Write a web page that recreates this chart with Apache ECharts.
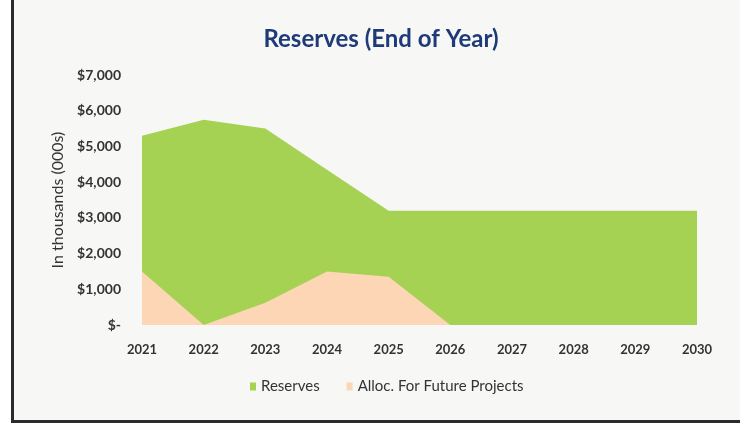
<!DOCTYPE html>
<html>
<head>
<meta charset="utf-8">
<script src="https://cdn.jsdelivr.net/npm/echarts@6/dist/echarts.min.js"></script>
<style>
  html, body { margin: 0; padding: 0; background: #ffffff; }
  #chart { width: 740px; height: 425px; }
</style>
</head>
<body>
<div id="chart"></div>
<script>
// Year-end reserves and allocations for future projects, in thousands of dollars
const years = ['2021', '2022', '2023', '2024', '2025', '2026', '2027', '2028', '2029', '2030'];
const reserves = [5300, 5750, 5500, 4350, 3200, 3200, 3200, 3200, 3200, 3200];
const allocFuture = [1500, 0, 620, 1500, 1350, 0, 0, 0, 0, 0];
const seriesNames = ['Reserves', 'Alloc. For Future Projects'];

const chart = echarts.init(document.getElementById('chart'), null, { renderer: 'canvas' });

const fontFamily = 'Lato, "Open Sans", sans-serif';

function dollars(v) {
  if (v === 0) return '$-';
  return '$' + v.toLocaleString('en-US');
}

chart.setOption({
  animation: false,
  backgroundColor: '#ffffff',
  graphic: [
    // panel fill
    { type: 'rect', z: -10, shape: { x: 14, y: 0, width: 726, height: 420 },
      style: { fill: '#f7f8f6' } },
    // frame on the left and bottom
    { type: 'rect', z: 10, shape: { x: 11, y: 0, width: 3, height: 423 },
      style: { fill: '#2b2b2b' } },
    { type: 'rect', z: 10, shape: { x: 11, y: 420, width: 729, height: 3 },
      style: { fill: '#2b2b2b' } }
  ],
  title: {
    text: 'Reserves (End of Year)',
    left: 376,
    top: 22,
    textAlign: 'center',
    textStyle: { fontFamily, fontSize: 24, fontWeight: 'bold', color: '#1f3a78' }
  },
  legend: {
    data: seriesNames,
    left: 245,
    top: 374,
    itemWidth: 6,
    itemHeight: 8,
    itemGap: 27,
    icon: 'rect',
    textStyle: { fontFamily, fontSize: 15, color: '#333333' }
  },
  grid: { left: 142, right: 43, top: 75, bottom: 100 },
  xAxis: {
    type: 'category',
    data: years,
    boundaryGap: false,
    axisLine: { show: false },
    axisTick: { show: false },
    axisLabel: { margin: 18, fontFamily, fontSize: 13, fontWeight: 'bold', color: '#333333' }
  },
  yAxis: {
    type: 'value',
    min: 0,
    max: 7000,
    interval: 1000,
    name: 'In thousands (000s)',
    nameLocation: 'middle',
    nameGap: 76,
    nameTextStyle: { fontFamily, fontSize: 16, color: '#333333' },
    axisLine: { show: false },
    axisTick: { show: false },
    splitLine: { show: false },
    axisLabel: {
      margin: 21,
      fontFamily, fontSize: 14, fontWeight: 'bold', color: '#333333',
      formatter: dollars
    }
  },
  series: [
    {
      name: seriesNames[0],
      type: 'line',
      data: reserves,
      symbol: 'none',
      lineStyle: { width: 0 },
      itemStyle: { color: '#a6d254' },
      areaStyle: { color: '#a6d254', opacity: 1 },
      z: 2
    },
    {
      name: seriesNames[1],
      type: 'line',
      data: allocFuture,
      symbol: 'none',
      lineStyle: { width: 0 },
      itemStyle: { color: '#fdd6b6' },
      areaStyle: { color: '#fdd6b6', opacity: 1 },
      z: 3
    }
  ]
});
</script>
</body>
</html>
